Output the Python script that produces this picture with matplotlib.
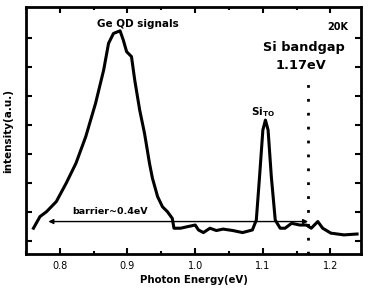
import numpy as np
import matplotlib
matplotlib.use("Agg")
import matplotlib.pyplot as plt

# spectrum (photon energy in eV, intensity in a.u.)
energy = [0.7610, 0.7706, 0.7803, 0.7948, 0.8093, 0.8238, 0.8383, 0.8528, 0.8648,
          0.8720, 0.8793, 0.8890, 0.8938, 0.8987, 0.9059, 0.9107, 0.9180, 0.9252,
          0.9325, 0.9368, 0.9445, 0.9517, 0.9590, 0.9662, 0.9687, 0.9784, 0.9880,
          1.0001, 1.0049, 1.0122, 1.0219, 1.0314, 1.0412, 1.0557, 1.0701, 1.0846,
          1.0904, 1.0952, 1.1001, 1.1039, 1.1078, 1.1126, 1.1184, 1.1257, 1.1329,
          1.1426, 1.1546, 1.1643, 1.1716, 1.1813, 1.1885, 1.2006, 1.2199, 1.2393]
intensity = [1.44, 1.84, 2.01, 2.36, 2.99, 3.68, 4.60, 5.75, 6.90,
             7.82, 8.16, 8.25, 7.93, 7.53, 7.36, 6.55, 5.52, 4.71,
             3.68, 3.17, 2.53, 2.18, 2.01, 1.78, 1.44, 1.44, 1.49,
             1.55, 1.38, 1.29, 1.44, 1.36, 1.41, 1.36, 1.29, 1.38,
             1.72, 3.22, 4.83, 5.17, 4.83, 3.22, 1.72, 1.44, 1.44,
             1.61, 1.55, 1.55, 1.44, 1.67, 1.44, 1.27, 1.21, 1.24]

bandgap = 1.167
barrier_start = 0.783
barrier_y = 1.67

fig = plt.figure(figsize=(3.68, 2.94), dpi=100)
ax = fig.add_axes([0.0707, 0.136, 0.910, 0.840])

ax.plot(energy, intensity, color="black", lw=2.2, solid_joinstyle="round")
ax.plot([bandgap, bandgap], [0.55, 6.5], color="black", lw=2,
        linestyle=(0, (1, 4)))
ax.annotate("", xy=(barrier_start, barrier_y), xytext=(bandgap, barrier_y),
            arrowprops=dict(arrowstyle="<|-|>", color="black", lw=1,
                            mutation_scale=7, shrinkA=0, shrinkB=0))

bold = dict(fontweight="bold", color="black")
ax.text(0.915, 8.5, "Ge QD signals", ha="center", va="center", fontsize=7.5, **bold)
ax.text(1.227, 8.38, "20K", ha="right", va="center", fontsize=7, **bold)
ax.text(1.161, 7.69, "Si bandgap", ha="center", va="center", fontsize=9.3, **bold)
ax.text(1.156, 7.07, "1.17eV", ha="center", va="center", fontsize=9.3, **bold)
ax.text(1.1, 5.45, r"Si$_{\mathregular{TO}}$", ha="center", va="center",
        fontsize=7.5, **bold)
ax.text(0.8745, 2.0, "barrier~0.4eV", ha="center", va="center", fontsize=6.8, **bold)

ax.set_xlim(0.76, 1.245)
ax.set_ylim(0.55, 9.07)
ax.set_xticks([0.8, 0.9, 1.0, 1.1, 1.2])
ax.set_xticklabels(["0.8", "0.9", "1.0", "1.1", "1.2"])
ax.set_xticks(np.arange(0.75, 1.25, 0.05), minor=True)
ax.set_yticks(np.arange(1, 9))
ax.set_yticklabels([])
ax.tick_params(which="both", direction="in", top=True, right=True, width=1.5)
ax.tick_params(which="major", length=4, labelsize=7, pad=5)
ax.tick_params(which="minor", length=2.5)
for s in ax.spines.values():
    s.set_linewidth(2)

ax.set_xlabel("Photon Energy(eV)", fontsize=7.3, fontweight="bold", labelpad=3)
ax.set_ylabel("intensity(a.u.)", fontsize=7.5, fontweight="bold", labelpad=4)

fig.savefig("out.png", dpi=100)
